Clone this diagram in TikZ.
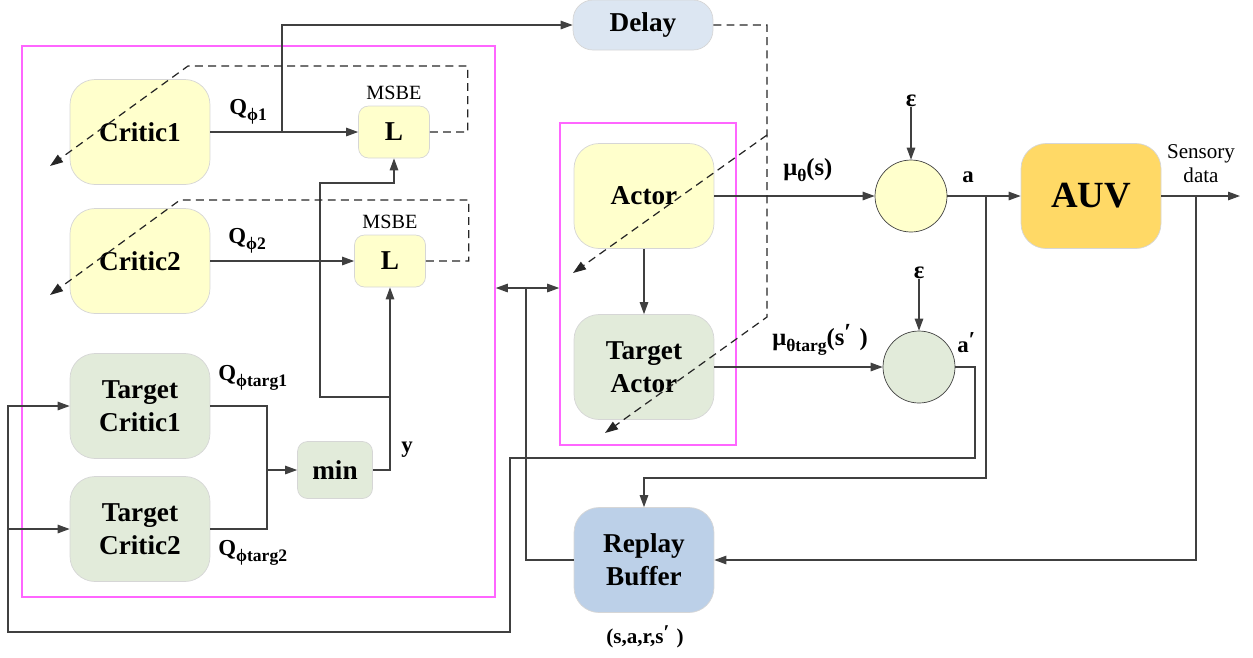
\documentclass[tikz,border=0pt]{standalone}
\usepackage{fontspec}
\setmainfont{Liberation Serif}
\usetikzlibrary{arrows.meta,positioning}

\definecolor{critfill}{HTML}{FFFFCC}
\definecolor{targfill}{HTML}{E2EBDA}
\definecolor{delayfill}{HTML}{DCE6F2}
\definecolor{bufffill}{HTML}{BCD0E8}
\definecolor{auvfill}{HTML}{FFD966}
\definecolor{edgegray}{HTML}{D6D6D6}
\definecolor{wiregray}{HTML}{404040}
\definecolor{framepink}{HTML}{FF66FF}

\newcommand{\lowidx}[1]{\raisebox{-0.6ex}{\fontsize{10}{10}\selectfont #1}}

\begin{document}
\begin{tikzpicture}[x=0.02cm, y=-0.02cm,
        font=\bfseries\fontsize{15.5}{19}\selectfont,
        block/.style = {draw=edgegray, rounded corners=0.5cm,
            align=center, minimum width=2.8cm, minimum height=2.1cm},
        lossbox/.style = {draw=edgegray, fill=critfill, rounded corners=0.2cm,
            minimum width=1.42cm, minimum height=1.04cm},
        noise/.style = {circle, draw=wiregray, minimum size=1.44cm},
        frame/.style = {draw=framepink, line width=0.9pt, inner sep=0pt},
        conn/.style = {draw=wiregray, line width=0.7pt},
        wire/.style = {conn, -{Triangle[length=2.4mm,width=1.7mm]}},
        update/.style = {draw=black!85, line width=0.7pt,
            dash pattern=on 4.5pt off 3pt, -{Triangle[length=2.6mm,width=1.8mm]}},
        lbl/.style = {font=\bfseries\fontsize{13}{15}\selectfont, inner sep=0pt},
        ]
        \useasboundingbox (0,0) rectangle (1253,657);

        % Frames
        \node[frame, minimum width=9.46cm, minimum height=11.02cm] (critics) at (258.5,321.5) {};
        \node[frame, minimum width=3.52cm, minimum height=6.44cm] (actors) at (648,284) {};

        % Critics
        \node[block, fill=critfill] (c1) at (140,132) {Critic1};
        \node[block, fill=critfill] (c2) at (140,261) {Critic2};
        \node[block, fill=targfill] (tc1) at (140,406) {Target\\Critic1};
        \node[block, fill=targfill] (tc2) at (140,529) {Target\\Critic2};

        % Losses
        \node[lossbox, label={[font=\mdseries\fontsize{11.5}{13}\selectfont]above:MSBE}] (l1) at (394,132) {L};
        \node[lossbox, label={[font=\mdseries\fontsize{11.5}{13}\selectfont]above:MSBE}] (l2) at (390,261) {L};
        \node[lossbox, fill=targfill, minimum width=1.5cm, minimum height=1.14cm] (mn) at (335,470) {min};

        % Actors, delay, buffer
        \node[block, fill=delayfill, minimum height=1cm, rounded corners=0.4cm] (dl) at (643,25) {Delay};
        \node[block, fill=critfill] (act) at (644,196) {Actor};
        \node[block, fill=targfill] (tact) at (644,367) {Target\\Actor};
        \node[block, fill=bufffill] (rb) at (644,560) {Replay\\Buffer};
        \node[block, fill=auvfill, font=\bfseries\fontsize{21}{25}\selectfont] (auv) at (1091,196) {AUV};

        % Noise
        \node[noise, fill=critfill] (n1) at (911,196) {};
        \node[noise, fill=targfill] (n2) at (919,367) {};
        \node[lbl, font=\bfseries\fontsize{14}{15}\selectfont] (e1) at (911,101) {ε};
        \node[lbl, font=\bfseries\fontsize{14}{15}\selectfont] (e2) at (919,273) {ε};

        % Labels
        \node[lbl, anchor=base west] at (229,114) {Q\lowidx{ϕ1}};
        \node[lbl, anchor=base west] at (228,243) {Q\lowidx{ϕ2}};
        \node[lbl, anchor=base west] at (218,380) {Q\lowidx{ϕtarg1}};
        \node[lbl, anchor=base west] at (218,555) {Q\lowidx{ϕtarg2}};
        \node[lbl, anchor=base west] at (401,452) {y};
        \node[lbl, anchor=base west, font=\bfseries\fontsize{14}{15}\selectfont] at (783,175) {μ\lowidx{θ}(s)};
        \node[lbl, anchor=base west, font=\bfseries\fontsize{14}{15}\selectfont] at (772,345) {μ\lowidx{θtarg}(s\raisebox{0.4ex}{′}\,\,)};
        \node[lbl, anchor=base west] at (962,182) {a};
        \node[lbl, anchor=base west] at (957,352) {a\raisebox{0.4ex}{′}};
        \node[lbl, anchor=base, font=\bfseries\fontsize{12}{14}\selectfont] at (645,643) {(s,a,r,s\raisebox{0.4ex}{′}\,\,)};
        \node[align=center, font=\fontsize{12}{13.6}\selectfont] at (1201,164) {Sensory\\data};

        % Points on the wires
        \coordinate (q1tap) at (282,132);
        \coordinate (ytap) at (390,397);
        \coordinate (qjoin) at (267,470);
        \coordinate (loop) at (8,529);
        \coordinate (atap) at (986,196);
        \coordinate (stap) at (1196,196);
        \coordinate (out) at (1240,196);
        \coordinate (link) at (526,288);
        \coordinate (c1tip) at (50,166);
        \coordinate (c2tip) at (50,295);
        \coordinate (atip) at (573,273);
        \coordinate (tatip) at (605,433);

        % Critic side
        \draw[wire] (c1) -- (l1);
        \draw[wire] (c2) -- (l2);
        \draw[wire] (q1tap) |- (dl);
        \draw[conn] (tc1.east) -| (qjoin);
        \draw[conn] (tc2.east) -| (qjoin);
        \draw[wire] (qjoin) -- (mn);
        \draw[wire] (mn.east) -| (l2.south);
        \draw[wire] (ytap) -| (320,183) -| (l1.south);

        % Actor side
        \draw[wire] (act) -- (tact);
        \draw[wire] (act) -- (n1);
        \draw[wire] (tact) -- (n2);
        \draw[wire] (e1) -- (n1);
        \draw[wire] (e2) -- (n2);
        \draw[wire] (n1) -- (auv);
        \draw[wire] (auv) -- (out);
        \draw[wire] (stap) |- (rb.east);
        \draw[wire] (atap) -- (986,478) -| (rb.north);
        \draw[wire] (n2.east) -- (975,367) |- (510,458) |- (8,632) |- (tc1.west);
        \draw[wire] (loop) -- (tc2.west);
        \draw[conn] (rb.west) -| (link);
        \draw[conn, {Triangle[length=2.4mm,width=1.7mm]}-{Triangle[length=2.4mm,width=1.7mm]}]
            (link -| critics.east) -- (link -| actors.west);

        % Soft updates
        \draw[update] (l1.east) -- ++(38,0) |- (188,66) -- (c1tip);
        \draw[update] (l2.east) -- ++(43,0) |- (180,200) -- (c2tip);
        \draw[update] (dl.east) -| (767,317) -- (tatip);
        \draw[update] (767,135) -- (atip);

\end{tikzpicture}
\end{document}
